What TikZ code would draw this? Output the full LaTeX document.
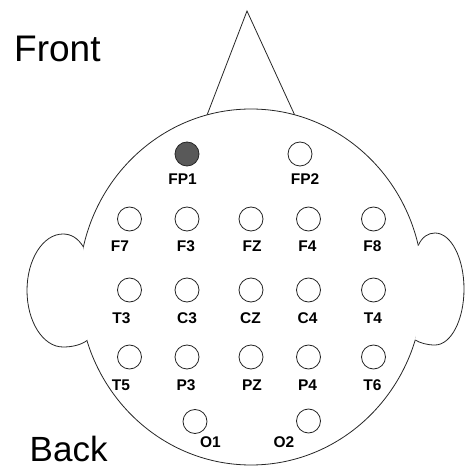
\documentclass[tikz,border=0pt]{standalone}
\usepackage{fontspec}
\setmainfont{Liberation Sans}
\begin{document}
\begin{tikzpicture}[x=1pt,y=1pt,
  outline/.style={line width=0.8pt,draw=black!85},
  electrode/.style={circle,outline,fill=white,minimum size=24pt,inner sep=0pt},
  active/.style={electrode,fill=black!65},
  lbl/.style={font=\fontsize{15.5}{15.5}\selectfont\bfseries,inner sep=0pt},
  side/.style={inner sep=0pt,anchor=base west}]
\useasboundingbox (0,0) rectangle (465,467);

% nose
\coordinate (nl) at (207.1,352.1);
\coordinate (nr) at (294.6,352.2);
\coordinate (tip) at (247,456);
\draw[outline,line join=miter] (nl) -- (tip) -- (nr);

% head
\coordinate (hc) at (251,180);
\filldraw[outline,fill=white] (hc) ellipse[x radius=172,y radius=178];

% left ear
\coordinate (la) at (83.4,220);
\coordinate (lb) at (87,126.5);
\fill[white] (la) .. controls (78,229) and (71,233) .. (63,233)
  arc[start angle=90,end angle=270,x radius=36,y radius=56.5]
  .. controls (72,120) and (81,122) .. (lb) -- cycle;
\draw[outline] (la) .. controls (78,229) and (71,233) .. (63,233)
  arc[start angle=90,end angle=270,x radius=36,y radius=56.5]
  .. controls (72,120) and (81,122) .. (lb);

% right ear
\coordinate (ra) at (418.2,221.5);
\coordinate (rb) at (415.2,127);
\fill[white] (ra) .. controls (422,230) and (428,234) .. (435,234)
  arc[start angle=90,end angle=-90,x radius=29,y radius=56]
  .. controls (427,122) and (420,124) .. (rb) -- cycle;
\draw[outline] (ra) .. controls (422,230) and (428,234) .. (435,234)
  arc[start angle=90,end angle=-90,x radius=29,y radius=56]
  .. controls (427,122) and (420,124) .. (rb);

% electrodes
\node[active]    (FP1) at (187,313) {};
\node[electrode] (FP2) at (300,313) {};
\node[electrode] (F7) at (129.5,248) {};
\node[electrode] (F3) at (187,248) {};
\node[electrode] (FZ) at (251,248) {};
\node[electrode] (F4) at (308.5,248) {};
\node[electrode] (F8) at (373.5,248) {};
\node[electrode] (T3) at (129.5,177) {};
\node[electrode] (C3) at (187,177) {};
\node[electrode] (CZ) at (251,177) {};
\node[electrode] (C4) at (308.5,177) {};
\node[electrode] (T4) at (373.5,177) {};
\node[electrode] (T5) at (129.5,110) {};
\node[electrode] (P3) at (187,110) {};
\node[electrode] (PZ) at (251,110) {};
\node[electrode] (P4) at (308.5,110) {};
\node[electrode] (T6) at (373.5,110) {};
\node[electrode] (O1) at (195,45.5) {};
\node[electrode] (O2) at (308.5,46) {};

% electrode names
\node[lbl] (lFP1) at (182.5,288) {FP1};
\node[lbl] (lFP2) at (305,288) {FP2};
\node[lbl] (lF7) at (120,221) {F7};
\node[lbl] (lF3) at (186,221) {F3};
\node[lbl] (lFZ) at (252,221) {FZ};
\node[lbl] (lF4) at (307.5,221) {F4};
\node[lbl] (lF8) at (372.5,221) {F8};
\node[lbl] (lT3) at (121.5,148.5) {T3};
\node[lbl] (lC3) at (187,148.5) {C3};
\node[lbl] (lCZ) at (250.5,148.5) {CZ};
\node[lbl] (lC4) at (307.5,148.5) {C4};
\node[lbl] (lT4) at (373,148.5) {T4};
\node[lbl] (lT5) at (121,82) {T5};
\node[lbl] (lP3) at (186,82) {P3};
\node[lbl] (lPZ) at (252,82) {PZ};
\node[lbl] (lP4) at (307.5,82) {P4};
\node[lbl] (lT6) at (372.5,82) {T6};
\node[lbl] (lO1) at (210.5,25) {O1};
\node[lbl] (lO2) at (284,25) {O2};

% orientation
\node[side,font=\fontsize{37}{37}\selectfont] (front) at (14,405) {Front};
\node[side,font=\fontsize{35}{35}\selectfont] (back) at (29.5,5.5) {Back};
\end{tikzpicture}
\end{document}
